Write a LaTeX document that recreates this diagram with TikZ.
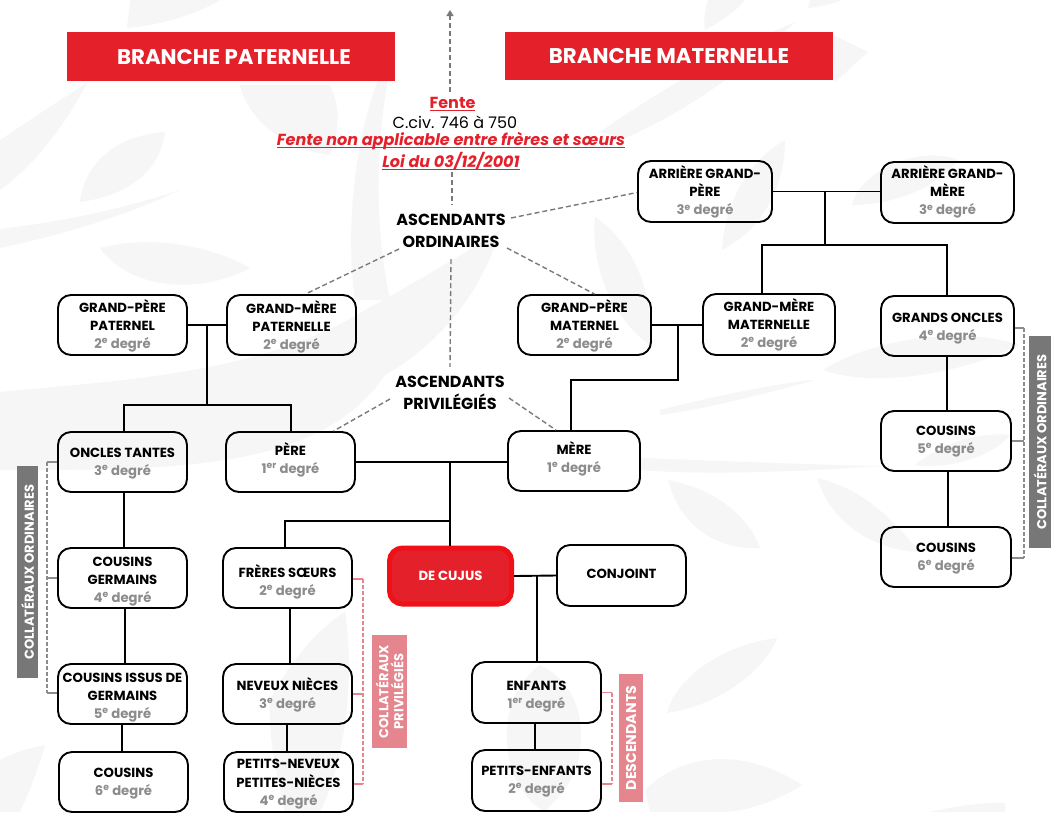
\documentclass[tikz,border=0pt]{standalone}
\usepackage{fontspec}
\setmainfont{Poppins}
\usetikzlibrary{calc,arrows.meta}
\definecolor{brred}{HTML}{E4202A}
\definecolor{brbright}{HTML}{EE1118}
\definecolor{dgray}{HTML}{8C8C8C}
\definecolor{lnkgray}{HTML}{7A7A7A}
\definecolor{labgray}{HTML}{777777}
\definecolor{pinky}{HTML}{E5858D}
\definecolor{leaf}{HTML}{F6F6F6}
\newcommand{\dg}[2]{\\{\color{dgray}#1\textsuperscript{#2} degré}}
\newcommand{\ulin}[1]{\setbox0=\hbox{#1}\rlap{\rule[-2.8pt]{\wd0}{1.2pt}}\box0 }
\newcommand{\tx}[2]{\raisebox{\dimexpr -4.5pt - #1pt\relax}[0pt][0pt]{\begin{tabular}[c]{@{}c@{}}#2\end{tabular}}}
\tikzset{
  box/.style={draw=black,line width=1.9pt,rounded corners=13pt,font=\fontsize{13.2}{18}\selectfont\bfseries,inner sep=0pt,text=black},
  cujus/.style={draw=brbright,fill=brred,line width=5pt,rounded corners=13pt,font=\fontsize{13.2}{18}\selectfont\bfseries,text=white,inner sep=0pt},
  banner/.style={fill=brred,text=white,font=\fontsize{21.3}{24}\selectfont\bfseries,inner sep=0pt},
  asc/.style={align=center,font=\fontsize{16}{21.5}\selectfont\bfseries,inner sep=0pt},
  conn/.style={draw=black,line width=1.9pt},
  dashg/.style={draw=lnkgray,line width=1.4pt,dash pattern=on 5pt off 3pt},
  bragray/.style={draw=dgray,line width=1.2pt},
  brapink/.style={draw=pinky,line width=1.2pt},
  labg/.style={fill=labgray,text=white,rotate=90,align=center,font=\fontsize{13}{15}\selectfont\bfseries,inner sep=0pt},
  labp/.style={fill=pinky,text=white,rotate=90,align=center,font=\fontsize{13}{15}\selectfont\bfseries,inner sep=0pt},
}
\begin{document}
\begin{tikzpicture}[x=1pt,y=-1pt]
\useasboundingbox (0,0) rectangle (1051,812);
\fill[white] (0,0) rectangle (1051,812);
% background leaves
\fill[leaf] (0,140) .. controls (30,120) and (60,100) .. (87,83) .. controls (65,125) and (35,165) .. (0,190) -- cycle;
\fill[leaf] (80,202) .. controls (85,160) and (120,135) .. (165,132) .. controls (160,170) and (130,195) .. (80,202);
\fill[leaf] (0,229) .. controls (60,222) and (120,210) .. (180,190) .. controls (120,218) and (60,235) .. (0,248) -- cycle;
\fill[leaf] (100,248) .. controls (150,235) and (210,245) .. (250,268) .. controls (200,295) and (130,290) .. (100,248);
\fill[leaf] (130,0) -- (220,0) .. controls (195,15) and (160,25) .. (127,28) -- cycle;
\fill[leaf] (240,85) -- (330,85) .. controls (342,110) and (338,135) .. (330,155) .. controls (290,150) and (250,125) .. (240,85);
\fill[leaf] (378,80) .. controls (355,140) and (345,230) .. (355,300) -- (390,300) .. controls (375,230) and (375,150) .. (388,80) -- cycle;
\fill[leaf] (0,392) .. controls (120,380) and (260,375) .. (365,310) .. controls (420,280) and (470,250) .. (500,230) .. controls (480,300) and (430,350) .. (385,375) .. controls (320,470) and (180,470) .. (0,470) -- cycle;
\fill[leaf] (705,30) .. controls (703,20) and (705,10) .. (708,0) -- (745,0) .. controls (735,12) and (720,22) .. (705,30);
\fill[leaf] (810,0) -- (842,0) .. controls (832,4) and (820,7) .. (808,8) -- cycle;
\fill[leaf] (833,35) -- (868,52) -- (835,82) -- cycle;
\fill[leaf] (600,132) .. controls (660,90) and (730,50) .. (795,22) .. controls (750,65) and (690,110) .. (625,138) -- cycle;
\fill[leaf] (722,250) .. controls (725,200) and (750,160) .. (785,140) .. controls (785,190) and (760,230) .. (722,250);
\fill[leaf] (852,205) .. controls (860,170) and (920,145) .. (958,160) .. controls (935,190) and (890,205) .. (852,205);
\fill[leaf] (595,217) .. controls (630,240) and (655,290) .. (650,345) .. controls (615,320) and (590,270) .. (595,217);
\fill[leaf] (823,370) .. controls (870,340) and (960,325) .. (1020,345) .. controls (970,370) and (880,390) .. (823,370);
\fill[leaf] (660,410) .. controls (740,390) and (790,382) .. (815,380) .. controls (760,395) and (700,410) .. (660,415) -- cycle;
\fill[leaf] (640,458) .. controls (750,462) and (820,465) .. (880,466) .. controls (800,472) and (700,475) .. (640,470) -- cycle;
\fill[leaf] (915,465) .. controls (945,440) and (985,432) .. (1010,435) .. controls (995,455) and (950,470) .. (915,465);
\fill[leaf] (668,480) .. controls (720,490) and (750,520) .. (760,548) .. controls (715,550) and (680,525) .. (668,480);
\fill[leaf] (817,478) .. controls (870,490) and (900,530) .. (920,552) .. controls (870,550) and (830,520) .. (817,478);
\fill[leaf] (667,713) .. controls (675,680) and (720,645) .. (777,638) .. controls (765,670) and (720,705) .. (667,713);
\fill[leaf] (645,790) .. controls (680,755) and (740,745) .. (802,785) .. controls (770,805) and (740,812) .. (720,812) -- (650,812) -- cycle;
\fill[leaf] (930,812) .. controls (960,805) and (990,802) .. (1005,803) -- (1005,812) -- cycle;
\fill[leaf] (507,740) .. controls (505,700) and (525,675) .. (540,665) .. controls (570,680) and (585,710) .. (580,750) .. controls (578,780) and (555,800) .. (545,812) .. controls (525,800) and (508,775) .. (507,740);
\fill[leaf] (270,700) .. controls (285,670) and (315,630) .. (345,612) .. controls (355,680) and (345,760) .. (320,812) -- (285,812) .. controls (275,770) and (268,730) .. (270,700);
\fill[leaf] (0,760) .. controls (15,752) and (30,748) .. (45,745) .. controls (35,780) and (25,800) .. (20,812) -- (0,812) -- cycle;
% nodes
\node[banner,minimum width=328pt,minimum height=49pt] (bp) at (231,56.5) {\hspace*{6pt}BRANCHE PATERNELLE};
\node[banner,minimum width=328pt,minimum height=48pt] (bm) at (669,56) {BRANCHE MATERNELLE};
\node[align=center,inner sep=0pt,minimum height=80pt,font=\fontsize{16}{19.2}\selectfont] (fente) at (451,133.6)
 {\hspace*{3pt}{\color{brred}\bfseries\ulin{Fente}}\\[0.8pt]\hspace*{8pt}C.civ. 746 à 750\\[-2.2pt]{\color{brred}\bfseries\itshape\ulin{Fente non applicable entre frères et sœurs}}\\[1.8pt]{\color{brred}\bfseries\itshape\ulin{Loi du 03/12/2001}}};
\coordinate (apex) at (450,10);
\node[asc,minimum height=56pt,minimum width=120pt] (ord) at (451,231) {ASCENDANTS\\ORDINAIRES};
\node[asc,minimum height=52pt,minimum width=110pt] (priv) at (450,393) {ASCENDANTS\\PRIVILÉGIÉS};
\node[box,minimum width=134pt,minimum height=61pt] (agp) at (705,191.5) {\tx{0}{ARRIÈRE GRAND-\\PÈRE\dg{3}{e}}};
\node[box,minimum width=133pt,minimum height=61pt] (agm) at (947.5,192.5) {\tx{-1}{ARRIÈRE GRAND-\\MÈRE\dg{3}{e}}};
\node[box,minimum width=129pt,minimum height=60pt] (gpp) at (122.5,325) {\tx{0}{GRAND-PÈRE\\PATERNEL\dg{2}{e}}};
\node[box,minimum width=129pt,minimum height=60pt] (gmp) at (291.5,325) {\tx{1}{GRAND-MÈRE\\PATERNELLE\dg{2}{e}}};
\node[box,minimum width=133pt,minimum height=60pt] (gpm) at (584.5,325) {\tx{0}{GRAND-PÈRE\\MATERNEL\dg{2}{e}}};
\node[box,minimum width=132pt,minimum height=61pt] (gmm) at (769,324.5) {\tx{-0.5}{GRAND-MÈRE\\MATERNELLE\dg{2}{e}}};
\node[box,minimum width=133pt,minimum height=60pt] (gon) at (947.5,326) {\tx{0}{GRANDS ONCLES\dg{4}{e}}};
\node[box,minimum width=130pt,minimum height=60pt] (cf) at (946,441) {\tx{-2}{COUSINS\dg{5}{e}}};
\node[box,minimum width=130pt,minimum height=60pt] (cs) at (946,557) {\tx{-1}{COUSINS\dg{6}{e}}};
\node[box,minimum width=129pt,minimum height=60pt] (ont) at (122.5,462) {\tx{-1}{ONCLES TANTES\dg{3}{e}}};
\node[box,minimum width=129pt,minimum height=60pt] (per) at (290.5,462) {\tx{-3}{PÈRE\dg{1}{er}}};
\node[box,minimum width=132pt,minimum height=60pt] (mer) at (574,461) {\tx{-3}{MÈRE\dg{1}{e}}};
\node[box,minimum width=129pt,minimum height=60pt] (cg) at (122.5,578) {\tx{1}{COUSINS\\GERMAINS\dg{4}{e}}};
\node[box,minimum width=129pt,minimum height=60pt] (cig) at (122.5,694) {\tx{1}{COUSINS ISSUS DE\\GERMAINS\dg{5}{e}}};
\node[box,minimum width=129pt,minimum height=60pt] (cl) at (123.5,782) {\tx{-1}{COUSINS\dg{6}{e}}};
\node[box,minimum width=129pt,minimum height=60pt] (fs) at (287.5,578) {\tx{3}{FRÈRES SŒURS\dg{2}{e}}};
\node[box,minimum width=129pt,minimum height=60pt] (nn) at (287.5,694) {\tx{0}{NEVEUX NIÈCES\dg{3}{e}}};
\node[box,minimum width=129pt,minimum height=60pt] (pn) at (288.5,782) {\tx{0}{PETITS-NEVEUX\\PETITES-NIÈCES\dg{4}{e}}};
\node[cujus,minimum width=122pt,minimum height=56pt] (dc) at (450.5,576) {\tx{-1}{DE CUJUS}};
\node[box,minimum width=129pt,minimum height=61pt] (cj) at (621.5,575.5) {\tx{-2.5}{CONJOINT}};
\node[box,minimum width=129pt,minimum height=61pt] (enf) at (536.5,692.5) {\tx{1.5}{ENFANTS\dg{1}{er}}};
\node[box,minimum width=129pt,minimum height=61pt] (pe) at (536.5,780.5) {\tx{-1.5}{PETITS-ENFANTS\dg{2}{e}}};
\node[labg,minimum width=212pt,minimum height=21pt] (lco1) at (27.5,572) {COLLATÉRAUX ORDINAIRES};
\node[labg,minimum width=212pt,minimum height=22pt] (lco2) at (1040,442) {COLLATÉRAUX ORDINAIRES};
\node[labp,minimum width=113pt,minimum height=35pt] (lcp) at (389.5,691.5) {COLLATÉRAUX\\PRIVILÉGIÉS};
\node[labp,minimum width=128pt,minimum height=24pt,font=\fontsize{14.2}{15}\selectfont\bfseries] (ldes) at (631,738) {DESCENDANTS};
% junctions
\coordinate (jpat) at (207,325);
\coordinate (barpat) at (207,405);
\coordinate (jpar) at (450,462);
\coordinate (jfs) at (450,521);
\coordinate (jag) at (825,192);
\coordinate (barag) at (825,245);
\coordinate (jmat) at (678,326);
\coordinate (barmat) at (678,380);
\coordinate (jcj) at (537,576);
% solid connectors
\draw[conn] (gpp.east) -- (gmp.west);
\draw[conn] (jpat) -- (barpat);
\draw[conn] ($(ont.north)+(1.5,0)$) |- (barpat) -| ($(per.north)+(0.5,0)$);
\draw[conn] (per.east) -- (mer.west |- per.east);
\draw[conn] (jpar) -- (dc.north -| jpar);
\draw[conn] (jfs) -| ($(fs.north)+(-2.5,0)$);
\draw[conn] (agp.east) -- (agm.west |- agp.east);
\draw[conn] (jag) -- (barag);
\draw[conn] ($(gmm.north)+(-7,0)$) |- (barag) -| ($(gon.north)+(-0.5,0)$);
\draw[conn] (gpm.east) -- (gmm.west |- gpm.east);
\draw[conn] (jmat) -- (barmat) -| ($(mer.north)+(-3,0)$);
\draw[conn] ($(ont.south)+(1.5,0)$) -- ($(cg.north)+(1.5,0)$);
\draw[conn] ($(cg.south)+(2.5,0)$) -- ($(cig.north)+(2.5,0)$);
\draw[conn] ($(cig.south)+(-0.5,0)$) -- ($(cl.north)+(-1.5,0)$);
\draw[conn] ($(fs.south)+(2.5,0)$) -- ($(nn.north)+(2.5,0)$);
\draw[conn] ($(nn.south)+(-0.5,0)$) -- ($(pn.north)+(-1.5,0)$);
\draw[conn] ($(gon.south)+(-0.5,0)$) -- ($(cf.north)+(1,0)$);
\draw[conn] ($(cf.south)+(2,0)$) -- ($(cs.north)+(2,0)$);
\draw[conn] (dc.east) -- (cj.west);
\draw[conn] (jcj) -- (enf.north -| jcj);
\draw[conn] ($(enf.south)+(-1.5,0)$) -- ($(pe.north)+(-1.5,0)$);
% dashed links
\draw[dashg,-{Triangle[length=6pt,width=7pt]}] ($(fente)+(-1,-41.6)$) -- (apex);
\draw[dashg] ($(fente)+(1,38.4)$) -- ($(ord)+(1,-26)$);
\draw[dashg] (ord.south) -- (priv.north);
\draw[dashg] ($(ord)+(60,-13)$) -- ($(agp.west)+(0,1)$);
\draw[dashg] ($(ord)+(-52,18)$) -- ($(gmp.north)+(14,0)$);
\draw[dashg] ($(ord)+(56,17)$) -- ($(gpm.north)+(10,0)$);
\draw[dashg] ($(priv)+(-60,6)$) -- ($(per.north)+(43,0)$);
\draw[dashg] ($(priv)+(59,5)$) -- ($(mer.north)+(-18,0)$);
% brackets
\coordinate (bl1) at (47,462); \coordinate (bl2) at (47,693);
\coordinate (br1) at (1024,328); \coordinate (br2) at (1024,558);
\coordinate (bm1) at (363,579); \coordinate (bm2) at (363,784);
\coordinate (bd1) at (612,692.5); \coordinate (bd2) at (612,784);
\draw[bragray] (ont.west) -- (bl1);
\draw[bragray,dash pattern=on 4pt off 2pt] (bl1) -- (bl2);
\draw[bragray] (cg.west) -- (cg.west -| bl1);
\draw[bragray] ($(cig.west)+(0,-1)$) -- (bl2);
\draw[bragray] ($(gon.east)+(0,2)$) -- (br1);
\draw[bragray,dash pattern=on 4pt off 2pt] (br1) -- (br2);
\draw[bragray] (cf.east) -- (cf.east -| br1);
\draw[bragray] ($(cs.east)+(0,1)$) -- (br2);
\draw[brapink] ($(fs.east)+(0,1)$) -- (bm1);
\draw[brapink,dash pattern=on 4pt off 2pt] (bm1) -- (bm2);
\draw[brapink] (nn.east) -- (nn.east -| bm1);
\draw[brapink] ($(pn.east)+(0,2)$) -- (bm2);
\draw[brapink] (enf.east) -- (bd1);
\draw[brapink,dash pattern=on 4pt off 2pt] (bd1) -- (bd2);
\draw[brapink] ($(pe.east)+(0,3.5)$) -- (bd2);
\end{tikzpicture}
\end{document}
